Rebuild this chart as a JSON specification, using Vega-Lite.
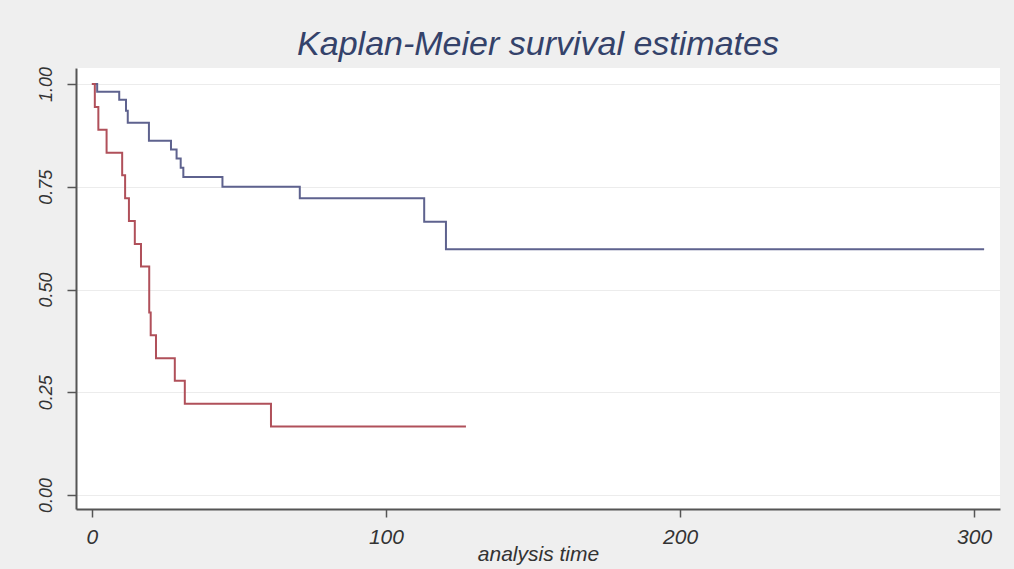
{
  "$schema": "https://vega.github.io/schema/vega-lite/v6.json",
  "width": 924,
  "height": 441,
  "autosize": "none",
  "padding": {"left": 76, "top": 68, "right": 14, "bottom": 60},
  "background": "#efefef",
  "view": {"fill": "white", "stroke": null},
  "title": {
    "text": "Kaplan-Meier survival estimates",
    "font": "Liberation Sans",
    "fontStyle": "italic",
    "fontWeight": "normal",
    "fontSize": 34,
    "color": "#34426a",
    "anchor": "middle",
    "offset": 5
  },
  "data": {
    "values": [
      {"time": 0, "survival": 1.0, "group": "A"},
      {"time": 1.8, "survival": 0.981, "group": "A"},
      {"time": 9.3, "survival": 0.962, "group": "A"},
      {"time": 11.6, "survival": 0.935, "group": "A"},
      {"time": 12.2, "survival": 0.906, "group": "A"},
      {"time": 19.4, "survival": 0.862, "group": "A"},
      {"time": 26.9, "survival": 0.841, "group": "A"},
      {"time": 28.8, "survival": 0.819, "group": "A"},
      {"time": 30.2, "survival": 0.796, "group": "A"},
      {"time": 31.1, "survival": 0.774, "group": "A"},
      {"time": 44.4, "survival": 0.75, "group": "A"},
      {"time": 70.7, "survival": 0.722, "group": "A"},
      {"time": 113, "survival": 0.665, "group": "A"},
      {"time": 120.4, "survival": 0.598, "group": "A"},
      {"time": 303.4, "survival": 0.598, "group": "A"},
      {"time": 0, "survival": 1.0, "group": "B"},
      {"time": 1.0, "survival": 0.944, "group": "B"},
      {"time": 2.2, "survival": 0.889, "group": "B"},
      {"time": 5.0, "survival": 0.833, "group": "B"},
      {"time": 10.3, "survival": 0.778, "group": "B"},
      {"time": 11.3, "survival": 0.722, "group": "B"},
      {"time": 12.6, "survival": 0.667, "group": "B"},
      {"time": 14.6, "survival": 0.611, "group": "B"},
      {"time": 16.7, "survival": 0.556, "group": "B"},
      {"time": 19.5, "survival": 0.444, "group": "B"},
      {"time": 20.0, "survival": 0.389, "group": "B"},
      {"time": 21.8, "survival": 0.333, "group": "B"},
      {"time": 28.2, "survival": 0.278, "group": "B"},
      {"time": 31.6, "survival": 0.222, "group": "B"},
      {"time": 60.9, "survival": 0.167, "group": "B"},
      {"time": 127.2, "survival": 0.167, "group": "B"}
    ]
  },
  "mark": {"type": "line", "interpolate": "step-after", "strokeWidth": 2},
  "encoding": {
    "x": {
      "field": "time",
      "type": "quantitative",
      "scale": {"domain": [-5.4, 308.8], "nice": false, "zero": false},
      "axis": {
        "values": [0, 100, 200, 300],
        "title": "analysis time",
        "titleFont": "Liberation Sans",
        "titleFontStyle": "italic",
        "titleFontWeight": "normal",
        "titleFontSize": 21,
        "titleColor": "#333333",
        "titlePadding": -4,
        "labelFont": "Liberation Sans",
        "labelFontStyle": "italic",
        "labelFontSize": 21,
        "labelColor": "#333333",
        "labelPadding": 9,
        "grid": false,
        "domainColor": "#555555",
        "domainWidth": 2,
        "tickColor": "#555555",
        "tickWidth": 1.5,
        "tickSize": 8
      }
    },
    "y": {
      "field": "survival",
      "type": "quantitative",
      "scale": {"domain": [-0.034, 1.039], "nice": false, "zero": false},
      "axis": {
        "values": [0, 0.25, 0.5, 0.75, 1],
        "format": ".2f",
        "title": null,
        "labelFont": "Liberation Sans",
        "labelFontStyle": "italic",
        "labelFontSize": 18,
        "labelColor": "#333333",
        "labelAngle": -90,
        "labelAlign": "center",
        "labelBaseline": "bottom",
        "labelPadding": 12,
        "grid": true,
        "gridColor": "#ececec",
        "gridWidth": 1,
        "domainColor": "#555555",
        "domainWidth": 2,
        "tickColor": "#555555",
        "tickWidth": 1.5,
        "tickSize": 9
      }
    },
    "color": {
      "field": "group",
      "type": "nominal",
      "scale": {"domain": ["A", "B"], "range": ["#5e628e", "#b0505a"]},
      "legend": null
    }
  }
}
